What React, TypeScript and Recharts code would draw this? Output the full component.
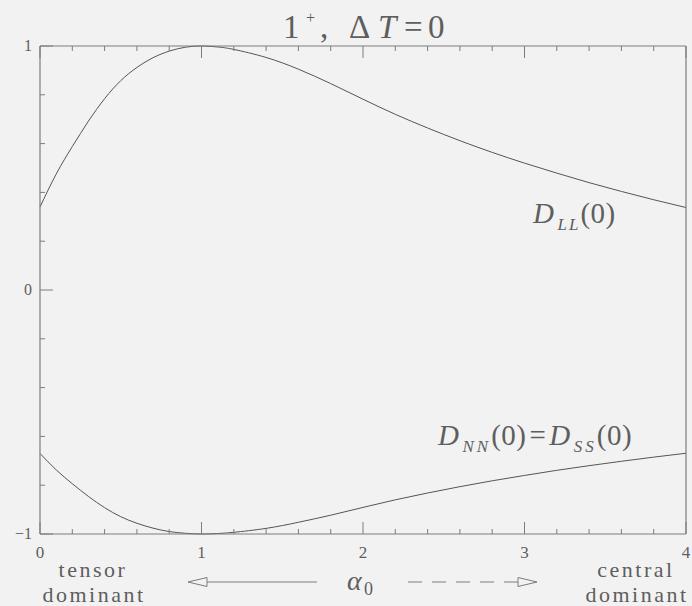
import React from "react";
import { LineChart, Line, XAxis, YAxis, Customized } from "recharts";

// alpha_0 sample points
const alpha = [
  0, 0.1, 0.2, 0.3, 0.4, 0.5, 0.6, 0.7, 0.8, 0.9, 1.0, 1.1, 1.2, 1.4, 1.6, 1.8,
  2.0, 2.2, 2.4, 2.6, 2.8, 3.0, 3.2, 3.4, 3.6, 3.8, 4.0,
];

// D_LL(0)
const dLL = [
  0.34, 0.475, 0.588, 0.692, 0.784, 0.858, 0.912, 0.952, 0.979, 0.995, 1.0,
  0.996, 0.986, 0.953, 0.905, 0.846, 0.782, 0.72, 0.664, 0.612, 0.564, 0.52,
  0.479, 0.44, 0.404, 0.37, 0.338,
];

// D_NN(0) = D_SS(0)
const dNN = [
  -0.67, -0.737, -0.794, -0.846, -0.892, -0.929, -0.956, -0.976, -0.99,
  -0.997, -1.0, -0.998, -0.993, -0.977, -0.952, -0.923, -0.891, -0.86, -0.832,
  -0.806, -0.782, -0.76, -0.739, -0.72, -0.702, -0.685, -0.669,
];

const xTicks = [
  0, 0.2, 0.4, 0.6, 0.8, 1, 1.2, 1.4, 1.6, 1.8, 2, 2.2, 2.4, 2.6, 2.8, 3, 3.2,
  3.4, 3.6, 3.8, 4,
];
const yTicks = [-1, -0.8, -0.6, -0.4, -0.2, 0, 0.2, 0.4, 0.6, 0.8, 1];
const xLabels = ["0", "1", "2", "3", "4"];
const yLabels: Record<string, string> = { "-1": "\u22121", "0": "0", "1": "1" };

const data = alpha.map((a, i) => ({ a, ll: dLL[i], nn: dNN[i] }));

const BG = "#f2f2f2";
const AXIS = "#7c7c7c";
const INK = "#5e5e5e";
const CURVE = "#555555";
const FONT = "'Liberation Serif', 'DejaVu Serif', serif";

const isMajor = (v: number) => Math.abs(v - Math.round(v)) < 1e-6;

const BottomTick = (props: any) => {
  const { x, y, payload } = props;
  const v = payload.value as number;
  const major = isMajor(v);
  return (
    <g>
      <line x1={x} x2={x} y1={y} y2={y - (major ? 12 : 5)} stroke={AXIS} strokeWidth={1} />
      {major && (
        <text x={x} y={y + 24} textAnchor="middle" fontSize={17} fill={INK} fontFamily={FONT}>
          {xLabels[Math.round(v)]}
        </text>
      )}
    </g>
  );
};

const TopTick = (props: any) => {
  const { x, y, payload } = props;
  const major = isMajor(payload.value);
  return <line x1={x} x2={x} y1={y} y2={y + (major ? 12 : 5)} stroke={AXIS} strokeWidth={1} />;
};

const LeftTick = (props: any) => {
  const { x, y, payload } = props;
  const v = payload.value as number;
  const major = isMajor(v);
  const key = String(Math.round(v));
  return (
    <g>
      <line x1={x} x2={x + (major ? 13 : 5)} y1={y} y2={y} stroke={AXIS} strokeWidth={1} />
      {major && (
        <text x={x - 8} y={y + 5} textAnchor="end" fontSize={16} fill={INK} fontFamily={FONT}>
          {yLabels[key]}
        </text>
      )}
    </g>
  );
};

const RightTick = (props: any) => {
  const { x, y, payload } = props;
  const major = isMajor(payload.value);
  return <line x1={x} x2={x - (major ? 13 : 5)} y1={y} y2={y} stroke={AXIS} strokeWidth={1} />;
};

const Annotations = () => (
  <g fontFamily={FONT} fill={INK}>
    {/* title */}
    <text y={38} fontSize={33}>
      <tspan x={283}>1</tspan>
      <tspan x={306} dy={-15} fontSize={16}>+</tspan>
      <tspan x={320} dy={15}>,</tspan>
      <tspan x={349}>Δ</tspan>
      <tspan x={378} fontStyle="italic">T</tspan>
      <tspan x={404}>=</tspan>
      <tspan x={428}>0</tspan>
    </text>

    {/* curve labels */}
    <text x={533} y={223} fontSize={29} letterSpacing={0.5}>
      <tspan fontStyle="italic">D</tspan>
      <tspan fontStyle="italic" fontSize={17} dx={3} dy={7} letterSpacing={2}>LL</tspan>
      <tspan dy={-7}>(0)</tspan>
    </text>
    <text x={438} y={445} fontSize={29} letterSpacing={0.5}>
      <tspan fontStyle="italic">D</tspan>
      <tspan fontStyle="italic" fontSize={17} dx={3} dy={7} letterSpacing={3}>NN</tspan>
      <tspan dy={-7}>(0)</tspan>
      <tspan dx={3}>=</tspan>
      <tspan dx={3} fontStyle="italic">D</tspan>
      <tspan fontStyle="italic" fontSize={17} dx={3} dy={7} letterSpacing={3}>SS</tspan>
      <tspan dy={-7}>(0)</tspan>
    </text>

    {/* x-axis description */}
    <text x={93} y={577} textAnchor="middle" fontSize={22} letterSpacing={2.5}>tensor</text>
    <text x={94} y={602} textAnchor="middle" fontSize={22} letterSpacing={2.5}>dominant</text>
    <text x={636} y={577} textAnchor="middle" fontSize={22} letterSpacing={2.5}>central</text>
    <text x={637} y={602} textAnchor="middle" fontSize={22} letterSpacing={2.5}>dominant</text>

    <polygon points="188,582 207,577.5 207,586.5" fill="none" stroke={AXIS} strokeWidth={1} />
    <line x1={207} x2={317} y1={582} y2={582} stroke={AXIS} strokeWidth={1} />
    <text x={347} y={590} fontSize={28} fontStyle="italic">α</text>
    <text x={364} y={595} fontSize={18}>0</text>
    <line x1={408} x2={518} y1={582} y2={582} stroke={AXIS} strokeWidth={1} strokeDasharray="14 10" />
    <polygon points="518,577.5 518,586.5 537,582" fill="none" stroke={AXIS} strokeWidth={1} />
  </g>
);

export default function App() {
  return (
    <div style={{ position: "absolute", left: 0, top: 0, width: 692, height: 606, background: BG }}>
      <LineChart
        width={692}
        height={606}
        data={data}
        margin={{ top: 45, right: 5, bottom: 71, left: 39 }}
      >
        <XAxis
          xAxisId="b"
          dataKey="a"
          type="number"
          domain={[0, 4]}
          ticks={xTicks}
          interval={0}
          height={1}
          tickSize={0}
          tickMargin={0}
          tickLine={false}
          axisLine={{ stroke: AXIS, strokeWidth: 1.2 }}
          tick={<BottomTick />}
        />
        <XAxis
          xAxisId="t"
          orientation="top"
          dataKey="a"
          type="number"
          domain={[0, 4]}
          ticks={xTicks}
          interval={0}
          height={1}
          tickSize={0}
          tickMargin={0}
          tickLine={false}
          axisLine={{ stroke: AXIS, strokeWidth: 1.2 }}
          tick={<TopTick />}
        />
        <YAxis
          yAxisId="l"
          type="number"
          domain={[-1, 1]}
          ticks={yTicks}
          interval={0}
          width={1}
          tickSize={0}
          tickMargin={0}
          tickLine={false}
          axisLine={{ stroke: AXIS, strokeWidth: 1.2 }}
          tick={<LeftTick />}
        />
        <YAxis
          yAxisId="r"
          orientation="right"
          type="number"
          domain={[-1, 1]}
          ticks={yTicks}
          interval={0}
          width={1}
          tickSize={0}
          tickMargin={0}
          tickLine={false}
          axisLine={{ stroke: AXIS, strokeWidth: 1.2 }}
          tick={<RightTick />}
        />
        <Line
          xAxisId="b"
          yAxisId="l"
          dataKey="ll"
          type="natural"
          stroke={CURVE}
          strokeWidth={1}
          dot={false}
          isAnimationActive={false}
        />
        <Line
          xAxisId="b"
          yAxisId="l"
          dataKey="nn"
          type="natural"
          stroke={CURVE}
          strokeWidth={1}
          dot={false}
          isAnimationActive={false}
        />
        <Customized component={Annotations} />
      </LineChart>
    </div>
  );
}
